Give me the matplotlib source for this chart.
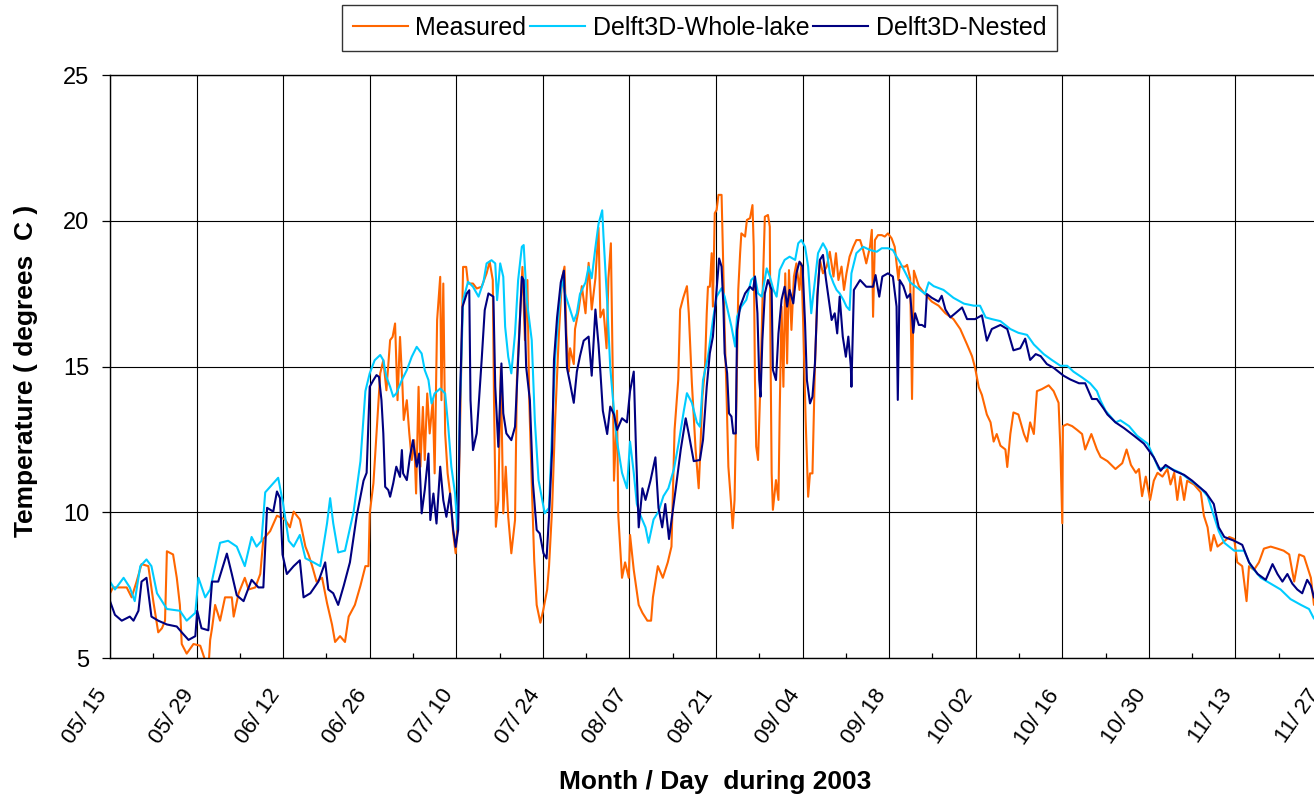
import numpy as np
import matplotlib
matplotlib.use("Agg")
import matplotlib.pyplot as plt
from matplotlib.transforms import ScaledTranslation

plt.rcParams['font.family'] = ['Liberation Sans', 'DejaVu Sans']

# Days after 2003-05-15 and water temperature (degrees C)
measured_day = [
    0, 0.5, 2.7, 3.5, 4.3, 5.1, 6.2, 7.0, 7.8, 8.4, 8.9, 9.2, 10.2, 10.8, 11.3, 11.6,
    12.4, 13.5, 14.6, 15.9, 16.2, 16.5, 17.0, 17.8, 18.6, 19.7, 20.0, 20.8, 21.8, 22.4,
    23.5, 24.3, 24.8, 25.9, 27.0, 28.3, 29.1, 29.7, 30.7, 31.6, 32.1, 32.7, 33.4, 34.3,
    35.1, 35.9, 36.4, 37.2, 38.0, 38.6, 39.6, 40.5, 41.3, 41.8,
    42.0, 42.6, 43.1, 43.7, 44.2, 44.7, 45.3, 45.7, 46.1, 46.5, 46.9, 47.3, 47.5, 48.0,
    48.4, 48.8, 49.2, 49.5, 49.9, 50.2, 50.6, 50.9, 51.3, 51.7, 52.2, 52.5, 52.9, 53.4,
    53.6, 53.9, 54.2, 54.6, 55.0, 55.5, 55.9, 56.3, 56.7, 57.1, 57.6, 57.9, 58.7, 59.3,
    60.1, 60.9, 61.4, 61.9, 62.1, 62.4, 62.8, 63.2, 63.6, 64.0, 64.4, 64.9, 65.5, 65.8,
    66.3, 66.7, 67.1, 67.5, 67.8, 68.2, 68.6, 69.0,
    69.6, 70.1, 70.7, 71.0, 71.5, 72.0, 72.6, 73.1, 73.5, 73.8, 74.2, 74.4, 75.0, 75.2,
    75.8, 76.3, 76.9, 77.4, 77.9, 78.5, 79.0, 79.3, 79.8, 80.3, 80.6, 81.0, 81.3, 81.5,
    82.0, 82.2, 82.8, 83.3, 83.9, 84.1, 84.7, 85.5, 86.1, 86.9, 87.5, 87.8, 88.6, 89.4,
    90.2, 90.8, 91.3, 91.9, 92.2, 92.7, 93.3, 93.6, 94.1, 94.7, 95.2,
    95.4, 95.8, 96.2, 96.5, 96.7, 97.0, 97.3, 97.5, 97.8, 98.1, 98.4, 98.9, 99.1, 99.4,
    99.7, 100.0, 100.4, 100.7, 101.0, 101.3, 101.6, 101.9, 102.1, 102.7, 103.0, 103.5,
    103.9, 104.1, 104.3, 104.5, 104.8, 105.2, 105.6, 105.9, 106.4, 106.7, 106.8, 107.0,
    107.2, 107.7, 108.1, 108.3, 108.6, 108.9, 109.2, 109.5, 109.8, 110.2, 110.6, 111.0,
    111.5, 111.8, 112.1, 112.5, 112.9, 113.2, 113.6, 114.0, 114.4, 114.8, 115.3, 115.9,
    116.4, 117.0, 117.4, 117.8, 118.3, 118.7, 119.1, 119.6, 120.2, 120.7, 121.3, 121.8,
    122.3, 122.9, 123.2, 123.4, 123.7, 124.2, 124.8, 125.3, 125.8, 126.4, 126.9, 127.5,
    127.7, 128.6,
    128.9, 129.4, 129.7, 130.0, 130.8, 131.8, 132.9, 134.0, 135.1, 136.4, 137.5, 138.6,
    139.4, 139.9, 140.5, 141.0, 141.8, 142.4, 142.9, 143.4, 144.0, 144.8, 145.1, 145.6,
    146.1, 146.9, 147.8, 148.3, 148.8, 149.4, 149.9, 150.7, 151.8, 152.6, 153.4, 153.7,
    153.9, 154.0, 154.1, 154.8, 155.6, 156.4, 157.2, 157.7, 158.7, 159.6, 160.2, 161.3,
    162.6, 163.7, 164.4, 165.1, 165.9, 166.4, 166.9, 167.5, 168.2, 168.8, 169.4, 170.2,
    171.0, 171.5, 172.1, 172.6, 173.1, 173.7, 174.2, 175.3, 176.4, 176.9, 177.5, 178.0,
    178.5, 179.1, 179.9, 181.0, 181.8, 182.3, 183.1, 183.8, 184.2, 185.0, 185.8, 186.6,
    187.7, 188.8, 189.8, 190.7, 191.5, 192.3, 193.1, 194.2, 194.7, 195.5,
]
measured_temp = [
    7.23, 7.43, 7.43, 7.09, 7.63, 8.23, 8.16, 6.96, 5.89, 6.03, 6.29, 8.67, 8.56, 7.76, 6.83, 5.49,
    5.16, 5.49, 5.43, 4.60, 5.63, 6.03, 6.83, 6.29, 7.09, 7.09, 6.43, 7.23, 7.76, 7.36,
    7.43, 7.89, 9.09, 9.36, 9.89, 9.76, 9.49, 10.03, 9.76, 8.83, 8.56, 8.16, 7.63, 7.76,
    6.89, 6.16, 5.56, 5.76, 5.56, 6.43, 6.83, 7.49, 8.16, 8.16,
    9.97, 11.00, 12.71, 14.77, 15.22, 14.19, 15.91, 16.02, 16.48, 13.85, 16.02, 14.31, 13.17, 13.85,
    12.71, 11.80, 12.48, 10.65, 14.31, 11.57, 13.62, 11.80, 14.08, 12.71, 13.85, 11.34, 16.60, 18.08,
    13.85, 17.85, 12.71, 11.34, 10.65, 9.28, 8.60, 9.85, 13.85, 18.42, 18.42, 17.85, 17.85, 17.68,
    17.74, 18.20, 18.60, 17.97, 13.85, 9.51, 10.42, 14.99, 9.97, 11.57, 9.85, 8.60, 9.74, 14.54,
    16.71, 18.42, 15.91, 17.97, 13.85, 11.00, 8.37, 6.83,
    6.22, 6.69, 7.36, 8.16, 10.16, 13.23, 16.16, 18.03, 18.43, 16.16, 14.83, 15.63, 15.09, 16.29,
    16.96, 17.76, 16.83, 18.56, 16.96, 18.03, 19.76, 16.69, 16.96, 15.63, 18.03, 19.23, 14.83, 11.09,
    13.49, 9.89, 7.76, 8.29, 7.76, 9.23, 8.03, 6.83, 6.56, 6.29, 6.29, 7.09, 8.16, 7.76,
    8.29, 8.83, 12.83, 14.56, 16.96, 17.36, 17.76, 16.83, 14.43, 12.16, 10.83,
    11.80, 13.97, 14.89, 16.83, 17.74, 17.74, 18.89, 17.06, 20.26, 20.37, 20.89, 20.89, 19.11, 16.26,
    14.09, 11.57, 10.43, 9.46, 10.43, 13.86, 17.63, 18.89, 19.57, 19.46, 20.03, 20.09,
    20.54, 19.11, 14.54, 12.26, 11.80, 14.54, 17.97, 20.14, 20.20, 19.80, 15.91, 11.34,
    10.09, 11.11, 10.43, 13.40, 17.06, 14.31, 18.20, 15.11, 18.31, 16.26, 18.09, 18.54,
    17.63, 18.54, 16.49, 13.17, 10.54, 11.34, 11.34, 15.00, 17.51, 18.66, 18.20, 18.43,
    18.94, 18.09, 18.89, 17.97, 18.43, 17.63, 18.20, 18.77, 19.11, 19.34, 19.34, 19.00,
    18.54, 19.11, 19.69, 16.71, 19.34, 19.51, 19.51, 19.46, 19.57, 19.40, 19.11, 17.97,
    18.43, 18.43,
    18.49, 18.03, 13.89, 18.29, 17.76, 17.49, 17.23, 17.09, 16.83, 16.63, 16.29, 15.76,
    15.36, 14.96, 14.29, 14.03, 13.36, 13.09, 12.43, 12.69, 12.29, 12.16, 11.56, 12.69,
    13.43, 13.36, 12.69, 12.43, 13.09, 12.69, 14.16, 14.23, 14.36, 14.16, 13.76, 12.16,
    10.43, 9.63, 12.96, 13.03, 12.96, 12.83, 12.69, 12.16, 12.69, 12.16, 11.90, 11.76,
    11.49, 11.69, 12.16, 11.63, 11.36, 11.49, 10.56, 11.23, 10.43, 11.09, 11.36, 11.23,
    11.49, 10.96, 11.36, 10.43, 11.23, 10.43, 11.09, 10.96, 10.69, 9.89, 9.49, 8.69,
    9.23, 8.83, 8.96, 9.16, 9.09, 8.29, 8.16, 6.96, 8.16, 8.03, 8.29, 8.76,
    8.83, 8.76, 8.69, 8.56, 7.63, 8.56, 8.49, 7.76, 6.83, 6.90,
]

whole_lake_day = [
    0, 0.8, 2.2, 3.2, 4.0, 4.9, 5.9, 6.7, 7.6, 9.2, 11.3, 12.4, 13.8, 14.3, 15.4, 16.2,
    17.8, 19.1, 20.5, 21.8, 22.9, 23.7, 24.5, 25.1, 27.2, 28.0, 28.9, 29.7, 30.7, 31.6,
    32.9, 34.0, 35.1, 35.6, 36.1, 36.9, 38.0, 39.4, 40.5, 41.3,
    42.0, 42.8, 43.7, 44.2, 44.7, 45.3, 45.8, 46.3, 47.2, 48.0, 48.8, 49.6, 50.4, 50.9,
    51.5, 52.0, 52.5, 53.4, 54.2, 54.7, 55.2, 55.8, 56.2, 56.6, 57.1, 57.9, 58.7, 59.6,
    60.4, 60.9, 61.7, 62.3, 62.6, 63.1, 63.6, 63.9, 64.4, 64.9, 65.5, 66.0, 66.6, 66.9,
    67.4, 68.2, 68.7, 69.3, 69.8, 70.3,
    71.0, 71.5, 72.0, 72.6, 73.1, 73.6,
    74.4, 75.0, 75.5, 76.0, 76.9, 77.4, 77.9, 78.5, 79.0, 79.6, 79.8, 80.4, 80.9, 81.5,
    82.0, 82.8, 83.6, 84.1, 84.7, 85.2, 85.8, 86.6, 87.1, 87.9, 88.7, 89.5, 90.3, 91.2,
    92.0, 92.8, 93.3, 94.1, 94.9,
    95.4, 95.9, 96.7, 97.5, 98.1, 98.9, 99.4, 100.0, 100.5, 101.1, 101.4, 102.1, 102.9,
    103.7, 104.3, 104.8, 105.4, 106.2, 106.7, 107.3, 107.8, 108.3, 109.1, 109.9, 110.8,
    111.3, 111.8, 112.4, 112.9, 113.4, 114.0, 114.5, 115.3, 115.9, 116.4, 117.0, 117.5,
    118.0, 118.6, 119.1, 119.6, 119.9, 120.7, 121.8, 122.9, 124.0, 124.8, 125.8, 126.6,
    127.2, 127.7,
    128.6, 129.4, 131.0,
    131.8, 132.4, 133.2, 134.8, 136.4, 138.1, 139.7, 140.7, 141.6, 142.6, 144.0, 145.6,
    146.9, 148.3, 149.4, 151.0, 152.3, 153.7, 154.8, 155.8, 157.2, 158.5, 159.6, 160.2,
    161.0, 162.6, 163.4, 164.8, 166.1, 167.8, 168.8, 169.6, 171.0, 173.1, 174.8, 176.4,
    177.5, 178.5, 179.3, 180.2, 181.8, 183.4, 184.5, 186.1, 187.7, 189.3, 190.9, 192.6,
    193.9, 194.7, 195.5,
]
whole_lake_temp = [
    7.63, 7.36, 7.76, 7.43, 6.96, 8.16, 8.39, 8.16, 7.23, 6.69, 6.63, 6.29, 6.56, 7.76, 7.09, 7.36,
    8.96, 9.03, 8.83, 8.16, 9.16, 8.83, 9.03, 10.69, 11.19, 10.29, 9.03, 8.83, 9.23, 8.43,
    8.29, 8.16, 9.63, 10.49, 9.63, 8.63, 8.69, 10.03, 11.76, 14.16,
    14.77, 15.22, 15.40, 15.22, 14.65, 14.31, 13.97, 14.08, 14.54, 14.88, 15.34, 15.68, 15.45, 14.88,
    14.54, 13.74, 14.08, 14.25, 14.08, 12.94, 11.57, 10.65, 9.40, 13.62, 17.28, 17.91, 17.74, 17.40,
    17.91, 18.54, 18.65, 18.54, 17.28, 18.54, 18.08, 16.37, 15.34, 14.77, 16.14, 17.97, 19.11, 19.17,
    17.28, 15.91, 13.17, 11.11, 10.54, 9.97,
    10.16, 12.83, 15.36, 16.96, 18.03, 17.49,
    16.96, 16.56, 16.83, 17.49, 17.89, 18.43, 18.03, 19.09, 19.89, 20.36, 19.49, 17.23, 14.96, 13.49,
    12.43, 11.36, 10.83, 12.43, 11.36, 10.29, 9.89, 9.49, 8.96, 9.76, 10.03, 10.56, 10.83, 11.49,
    12.43, 13.49, 14.09, 13.76, 13.09,
    12.94, 14.54, 15.34, 16.60, 17.40, 17.69, 17.40, 16.83, 16.37, 15.69, 16.71, 17.06, 17.29,
    17.97, 18.09, 17.51, 17.40, 18.37, 18.09, 17.63, 17.40, 18.31, 18.66, 18.77, 18.66,
    19.23, 19.34, 19.11, 18.43, 16.83, 17.97, 18.89, 19.23, 19.00, 18.20, 17.86, 17.63,
    17.51, 17.29, 17.06, 16.94, 18.20, 18.89, 19.11, 19.00, 18.94, 19.06, 19.06, 19.00,
    18.77, 18.60,
    18.23, 17.89, 17.63,
    17.49, 17.89, 17.76, 17.63, 17.36, 17.16, 17.09, 17.09, 16.69, 16.63, 16.56, 16.29,
    16.16, 16.09, 15.76, 15.43, 15.23, 15.03, 15.03, 14.83, 14.63, 14.43, 14.16, 13.83,
    13.49, 13.09, 13.16, 12.96, 12.63, 12.36, 11.89, 11.49, 11.56, 11.36, 11.09, 10.83,
    10.56, 9.89, 9.36, 8.96, 8.69, 8.69, 8.16, 7.76, 7.56, 7.36, 7.03, 6.83,
    6.69, 6.36, 6.30,
]

nested_day = [
    0, 0.8, 1.9, 3.2, 3.8, 4.6, 5.1, 5.9, 6.7, 7.8, 9.2, 10.8, 11.6, 12.7, 13.8, 14.1,
    14.8, 15.9, 16.5, 17.5, 18.9, 19.7, 20.5, 21.6, 22.9, 24.0, 24.8, 25.4, 26.4, 27.0,
    27.5, 27.9, 28.6, 29.7, 30.7, 31.3, 32.4, 33.7, 34.8, 35.3, 36.1, 36.9, 37.8, 38.8,
    39.9, 41.0, 41.5,
    42.0, 42.6, 43.1, 43.5, 43.9, 44.2, 44.5, 45.0, 45.3, 45.8, 46.3, 46.9, 47.2, 47.4,
    48.0, 48.5, 49.0, 49.6, 50.0, 50.4, 50.9, 51.5, 51.8, 52.3, 52.8, 53.4, 53.9, 54.4,
    55.0, 55.5, 55.9, 56.3, 56.6, 57.0, 57.7, 58.1, 58.3, 58.7, 59.3, 59.6, 60.1, 60.6,
    61.2, 62.0, 62.3, 62.8, 63.3, 63.6, 64.1, 64.9, 65.5, 66.0, 66.6, 66.9, 67.3, 67.9,
    68.4, 69.0, 69.5, 70.1, 70.6,
    71.0, 71.5, 71.8, 72.3, 72.9, 73.4, 73.9, 74.4, 75.0, 75.5, 76.0, 76.6, 77.4, 77.9,
    78.5, 79.0, 79.3, 79.7, 80.4, 80.9, 81.5, 82.0, 82.8, 83.6, 84.1, 84.7, 85.1, 85.5,
    86.1, 86.6, 87.4, 88.2, 88.7, 89.3, 89.8, 90.4, 90.9, 91.5, 92.3, 93.1, 93.6, 94.4,
    95.4, 95.9, 96.5, 97.0, 97.5, 98.1, 98.5, 98.9, 99.2, 99.4, 99.8, 100.1, 100.5, 100.8,
    101.2, 101.4, 101.9, 102.7, 103.5, 104.0, 104.3, 104.7, 105.0, 105.2, 105.5, 105.9,
    106.4, 107.0, 107.2, 107.7, 108.1, 108.6, 109.1, 109.5, 109.9, 110.5, 111.0, 111.5,
    112.0, 112.4, 112.7, 113.2, 113.6, 114.0, 114.4, 114.8, 115.3, 115.8, 116.1, 116.7,
    117.2, 117.6, 118.0, 118.5, 119.0, 119.4, 119.8, 119.9, 120.3, 121.3, 122.3, 123.4,
    123.8, 124.4, 124.9, 125.8, 126.6, 127.2, 127.4, 127.7,
    128.3, 128.9, 129.4, 129.9, 130.2,
    130.8, 131.3, 131.8, 132.1, 132.9, 134.0, 134.5, 135.1, 135.9, 136.7, 137.8, 138.6,
    139.9, 141.0, 141.8, 142.6, 144.0, 145.1, 146.1, 147.2, 148.0, 148.8, 149.7, 150.5,
    151.5, 152.6, 154.2, 155.3, 156.7, 157.7, 158.8, 159.6, 160.7, 161.3, 162.6, 164.0,
    165.6, 167.2, 168.8, 169.9, 170.7, 172.1, 173.7, 175.0, 176.4, 177.2, 178.5, 179.3,
    180.2, 181.8, 183.1, 184.2, 185.6, 186.9, 188.0, 188.8, 189.6, 190.4, 191.2, 192.0,
    192.8, 193.6, 194.2, 194.7, 195.5,
]
nested_temp = [
    6.96, 6.49, 6.29, 6.43, 6.29, 6.63, 7.63, 7.76, 6.43, 6.29, 6.16, 6.09, 5.89, 5.63, 5.76, 6.63,
    6.03, 5.96, 7.63, 7.63, 8.59, 7.89, 7.16, 6.96, 7.69, 7.43, 7.43, 10.16, 10.03, 10.72,
    10.49, 8.56, 7.89, 8.16, 8.36, 7.09, 7.23, 7.63, 8.29, 7.36, 7.23, 6.83, 7.49, 8.29,
    9.89, 11.09, 11.36,
    14.31, 14.54, 14.71, 14.65, 13.85, 12.71, 10.88, 10.77, 10.54, 11.00, 11.57, 11.22, 12.14, 11.34,
    11.11, 11.91, 12.48, 11.57, 12.02, 9.97, 10.77, 12.02, 9.74, 10.65, 9.62, 11.57, 10.42, 9.85,
    10.65, 9.40, 8.82, 9.40, 13.85, 17.05, 17.51, 17.62, 13.85, 12.14, 12.71, 13.62, 15.22, 16.94,
    17.51, 17.40, 14.31, 12.25, 15.11, 13.40, 12.71, 12.48, 12.94, 15.22, 18.08, 17.97, 14.99, 13.85,
    11.00, 9.40, 9.28, 8.60, 8.42,
    9.89, 12.16, 15.23, 16.69, 17.89, 18.29, 14.96, 14.43, 13.76, 14.83, 15.36, 15.89, 16.03, 14.69,
    16.96, 15.76, 14.83, 13.49, 12.69, 13.63, 13.36, 12.83, 13.23, 13.09, 14.16, 14.83, 11.89, 9.49,
    10.83, 10.43, 11.09, 11.89, 10.16, 9.49, 10.29, 9.09, 9.89, 10.83, 12.16, 13.23, 12.69, 11.76,
    11.80, 12.49, 14.31, 15.46, 16.03, 17.63, 18.71, 18.43, 17.06, 15.46, 14.77, 13.40, 13.29, 12.71,
    12.71, 16.26, 17.06, 17.51, 17.74, 17.63, 18.09, 16.83, 14.54, 13.97, 15.91, 17.51,
    17.97, 17.63, 14.89, 14.54, 16.14, 17.29, 17.74, 17.06, 17.63, 17.17, 18.20, 18.60,
    18.43, 16.49, 14.54, 13.74, 13.97, 15.11, 17.40, 18.66, 18.83, 17.97, 17.51, 16.60,
    16.83, 16.14, 17.40, 16.03, 15.34, 16.03, 15.00, 14.31, 17.63, 17.97, 17.74, 17.74,
    18.14, 17.40, 18.09, 18.20, 18.09, 17.06, 13.86, 17.97,
    17.76, 17.36, 17.49, 16.16, 16.83,
    16.43, 16.43, 16.36, 17.49, 17.36, 17.23, 17.43, 16.96, 16.69, 16.83, 17.03, 16.63,
    16.63, 16.76, 15.89, 16.29, 16.43, 16.29, 15.56, 15.63, 15.96, 15.23, 15.43, 15.36,
    15.09, 14.96, 14.69, 14.56, 14.43, 14.43, 13.89, 13.89, 13.56, 13.36, 13.09, 12.89,
    12.63, 12.36, 11.89, 11.43, 11.63, 11.43, 11.29, 11.09, 10.83, 10.69, 10.29, 9.49,
    9.16, 9.03, 8.89, 8.29, 7.89, 7.69, 8.23, 7.89, 7.63, 7.89, 7.56, 7.36,
    7.23, 7.69, 7.49, 7.09, 6.90,
]

tick_days = [0, 14, 28, 42, 56, 70, 84, 98, 112, 126, 140, 154, 168, 182, 196]
tick_labels = ['05/ 15', '05/ 29', '06/ 12', '06/ 26', '07/ 10', '07/ 24', '08/ 07',
               '08/ 21', '09/ 04', '09/ 18', '10/ 02', '10/ 16', '10/ 30', '11/ 13', '11/ 27']
y_ticks = [5, 10, 15, 20, 25]

W, H = 1314, 799
fig = plt.figure(figsize=(W / 100, H / 100), dpi=100)
ax_left, ax_right, ax_top, ax_bottom = 110, 1322, 75, 658.3
ax = fig.add_axes([ax_left / W, (H - ax_bottom) / H,
                   (ax_right - ax_left) / W, (ax_bottom - ax_top) / H])

ax.plot(measured_day, measured_temp, color='#FF6600', lw=1.5, label='Measured')
ax.plot(whole_lake_day, whole_lake_temp, color='#00CCFF', lw=1.5, label='Delft3D-Whole-lake')
ax.plot(nested_day, nested_temp, color='#000080', lw=1.5, label='Delft3D-Nested')

ax.set_xlim(0, 196)
ax.set_ylim(5, 25)
ax.set_xticks(tick_days)
ax.set_xticklabels(tick_labels, fontsize=16, rotation=55, ha='right', va='center',
                   rotation_mode='anchor')
ax.set_xticks([d + 7 for d in tick_days[:-1]], minor=True)
ax.set_yticks(y_ticks)
ax.set_yticklabels([str(v) for v in y_ticks], fontsize=17)

ax.grid(True, which='major', color='black', lw=0.8)
ax.tick_params(axis='x', which='major', length=0, pad=24)
ax.tick_params(axis='x', which='minor', direction='in', length=3.5, width=0.9)
ax.tick_params(axis='y', which='major', direction='out', length=5.8, width=0.9, pad=9)
for s in ax.spines.values():
    s.set_linewidth(1.0)
    s.set_color('black')

shift = ScaledTranslation(-7 / 100, 0, fig.dpi_scale_trans)
for lbl in ax.get_xticklabels():
    lbl.set_transform(lbl.get_transform() + shift)

ax.set_xlabel('Month / Day  during 2003', fontsize=19, fontweight='bold')
ax.xaxis.set_label_coords(0.499, -0.192)
ax.set_ylabel('Temperature ( degrees  C )', fontsize=19, fontweight='bold')
ax.yaxis.set_label_coords(-0.059, 0.492)

leg = fig.legend(loc='center', bbox_to_anchor=(699.5 / W, 1 - 28 / H), ncol=3,
                 fontsize=18, frameon=True, fancybox=False, edgecolor='black',
                 handlelength=2.2, handletextpad=0.3, columnspacing=0.15,
                 borderpad=0.45, borderaxespad=0)
leg.get_frame().set_linewidth(1.0)

fig.savefig('out.png', dpi=100)
